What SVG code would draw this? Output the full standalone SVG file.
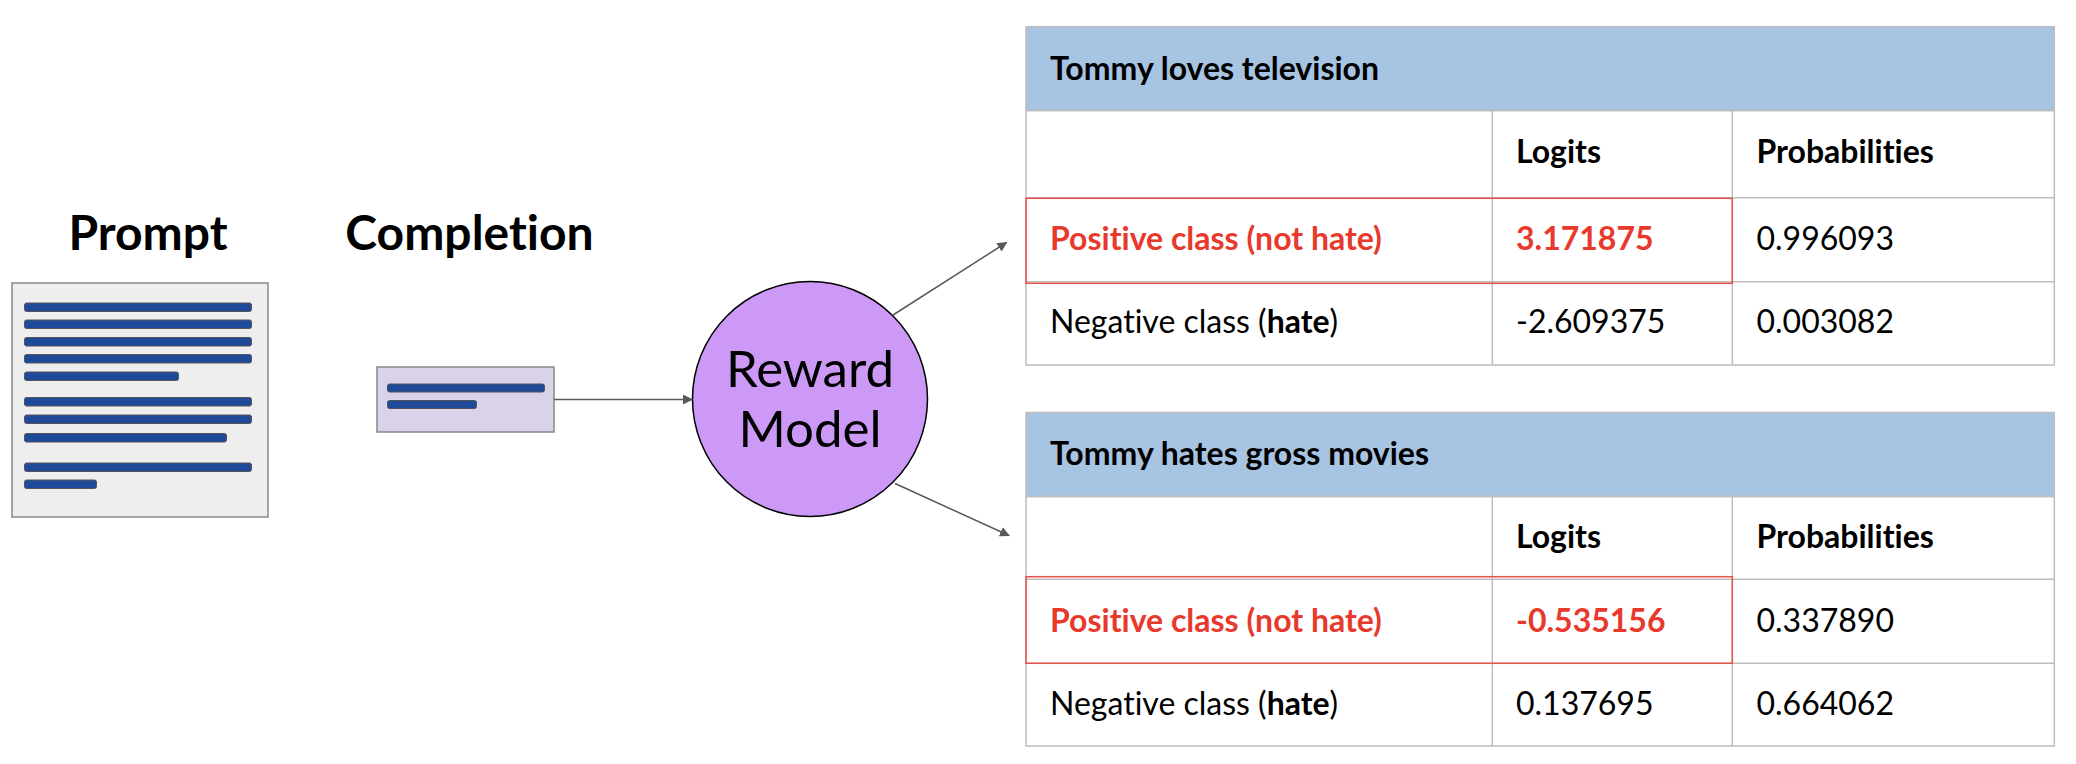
<svg xmlns="http://www.w3.org/2000/svg" width="2076" height="764" viewBox="0 0 2076 764">
<style>
text{font-family:Lato,"Open Sans","Liberation Sans",sans-serif;fill:#000;font-variant-ligatures:none;font-feature-settings:"liga" 0}
.title{font-size:48px;font-weight:700}
.cell{font-size:32px}
.b{font-weight:700}
.red{fill:#e8392d}
.grid{stroke:#bdbdbd;stroke-width:1.5;fill:none}
.hdr{fill:#a8c4e3;stroke:#bdbdbd;stroke-width:1.5}
.hl{fill:none;stroke:#e5524a;stroke-width:1.5}
.bar{fill:#1f4a9a;stroke:#555;stroke-width:1}
.conn{stroke:#595959;stroke-width:1.5;fill:none}
</style>
<defs>
<marker id="ah" viewBox="0 0 10 10" refX="9" refY="5" markerWidth="10" markerHeight="10" markerUnits="userSpaceOnUse" orient="auto">
<path d="M0,0 L10,5 L0,10 z" fill="#595959"/>
</marker>
</defs>
<rect width="2076" height="764" fill="#fff"/>

<g id="prompt">
<text class="title" x="148" y="250" text-anchor="middle">Prompt</text>
<rect x="12" y="283" width="256" height="234" fill="#eeeeee" stroke="#888" stroke-width="1.5"/>
<rect class="bar" x="24.5" y="303" width="227" height="8.5" rx="2"/>
<rect class="bar" x="24.5" y="320" width="227" height="8.5" rx="2"/>
<rect class="bar" x="24.5" y="337.5" width="227" height="8.5" rx="2"/>
<rect class="bar" x="24.5" y="354.5" width="227" height="8.5" rx="2"/>
<rect class="bar" x="24.5" y="372" width="154" height="8.5" rx="2"/>
<rect class="bar" x="24.5" y="397.5" width="227" height="8.5" rx="2"/>
<rect class="bar" x="24.5" y="415" width="227" height="8.5" rx="2"/>
<rect class="bar" x="24.5" y="433.5" width="202" height="8.5" rx="2"/>
<rect class="bar" x="24.5" y="463" width="227" height="8.5" rx="2"/>
<rect class="bar" x="24.5" y="480" width="72" height="8.5" rx="2"/>
</g>

<g id="completion">
<text class="title" x="469.5" y="250" text-anchor="middle">Completion</text>
<rect x="377" y="367" width="177" height="65" fill="#d9d2e9" stroke="#888" stroke-width="1.5"/>
<rect class="bar" x="387.5" y="384" width="157" height="8" rx="2"/>
<rect class="bar" x="387.5" y="400.5" width="89" height="8" rx="2"/>
</g>

<g id="reward-model">
<circle cx="810" cy="399" r="117.5" fill="#cc9af6" stroke="#000" stroke-width="1.5"/>
<text x="810" y="387" font-size="51" text-anchor="middle">Reward</text>
<text x="810" y="447" font-size="51" text-anchor="middle">Model</text>
</g>

<g id="connectors">
<line class="conn" x1="554" y1="399.5" x2="692" y2="399.5" marker-end="url(#ah)"/>
<line class="conn" x1="893" y1="315" x2="1006.5" y2="242.5" marker-end="url(#ah)"/>
<line class="conn" x1="895" y1="483.5" x2="1009" y2="535.5" marker-end="url(#ah)"/>
</g>

<g id="table-loves">
<rect class="hdr" x="1026" y="26.7" width="1028.3" height="83.8"/>
<rect class="grid" x="1026" y="110.5" width="1028.3" height="254.5"/>
<line class="grid" x1="1026" y1="197.7" x2="2054.3" y2="197.7"/>
<line class="grid" x1="1026" y1="281.7" x2="2054.3" y2="281.7"/>
<line class="grid" x1="1492.3" y1="110.5" x2="1492.3" y2="365"/>
<line class="grid" x1="1732.3" y1="110.5" x2="1732.3" y2="365"/>
<rect class="hl" x="1026" y="198.3" width="706.3" height="85"/>
<text class="cell b" x="1050" y="80">Tommy loves television</text>
<text class="cell b" x="1516" y="163.3">Logits</text>
<text class="cell b" x="1756.5" y="163.3">Probabilities</text>
<text class="cell b red" x="1050" y="250">Positive class (not hate)</text>
<text class="cell b red" x="1516" y="250">3.171875</text>
<text class="cell" x="1756.5" y="250">0.996093</text>
<text class="cell" x="1050" y="333.3">Negative class (<tspan class="b">hate</tspan>)</text>
<text class="cell" x="1516" y="333.3">-2.609375</text>
<text class="cell" x="1756.5" y="333.3">0.003082</text>
</g>

<g id="table-hates">
<rect class="hdr" x="1026" y="412.5" width="1028.3" height="84"/>
<rect class="grid" x="1026" y="496.5" width="1028.3" height="249.5"/>
<line class="grid" x1="1026" y1="579.3" x2="2054.3" y2="579.3"/>
<line class="grid" x1="1026" y1="663.3" x2="2054.3" y2="663.3"/>
<line class="grid" x1="1492.3" y1="496.5" x2="1492.3" y2="746"/>
<line class="grid" x1="1732.3" y1="496.5" x2="1732.3" y2="746"/>
<rect class="hl" x="1026" y="576.7" width="706.3" height="86.6"/>
<text class="cell b" x="1050" y="465">Tommy hates gross movies</text>
<text class="cell b" x="1516" y="548.3">Logits</text>
<text class="cell b" x="1756.5" y="548.3">Probabilities</text>
<text class="cell b red" x="1050" y="631.7">Positive class (not hate)</text>
<text class="cell b red" x="1516" y="631.7">-0.535156</text>
<text class="cell" x="1756.5" y="631.7">0.337890</text>
<text class="cell" x="1050" y="715">Negative class (<tspan class="b">hate</tspan>)</text>
<text class="cell" x="1516" y="715">0.137695</text>
<text class="cell" x="1756.5" y="715">0.664062</text>
</g>
</svg>
